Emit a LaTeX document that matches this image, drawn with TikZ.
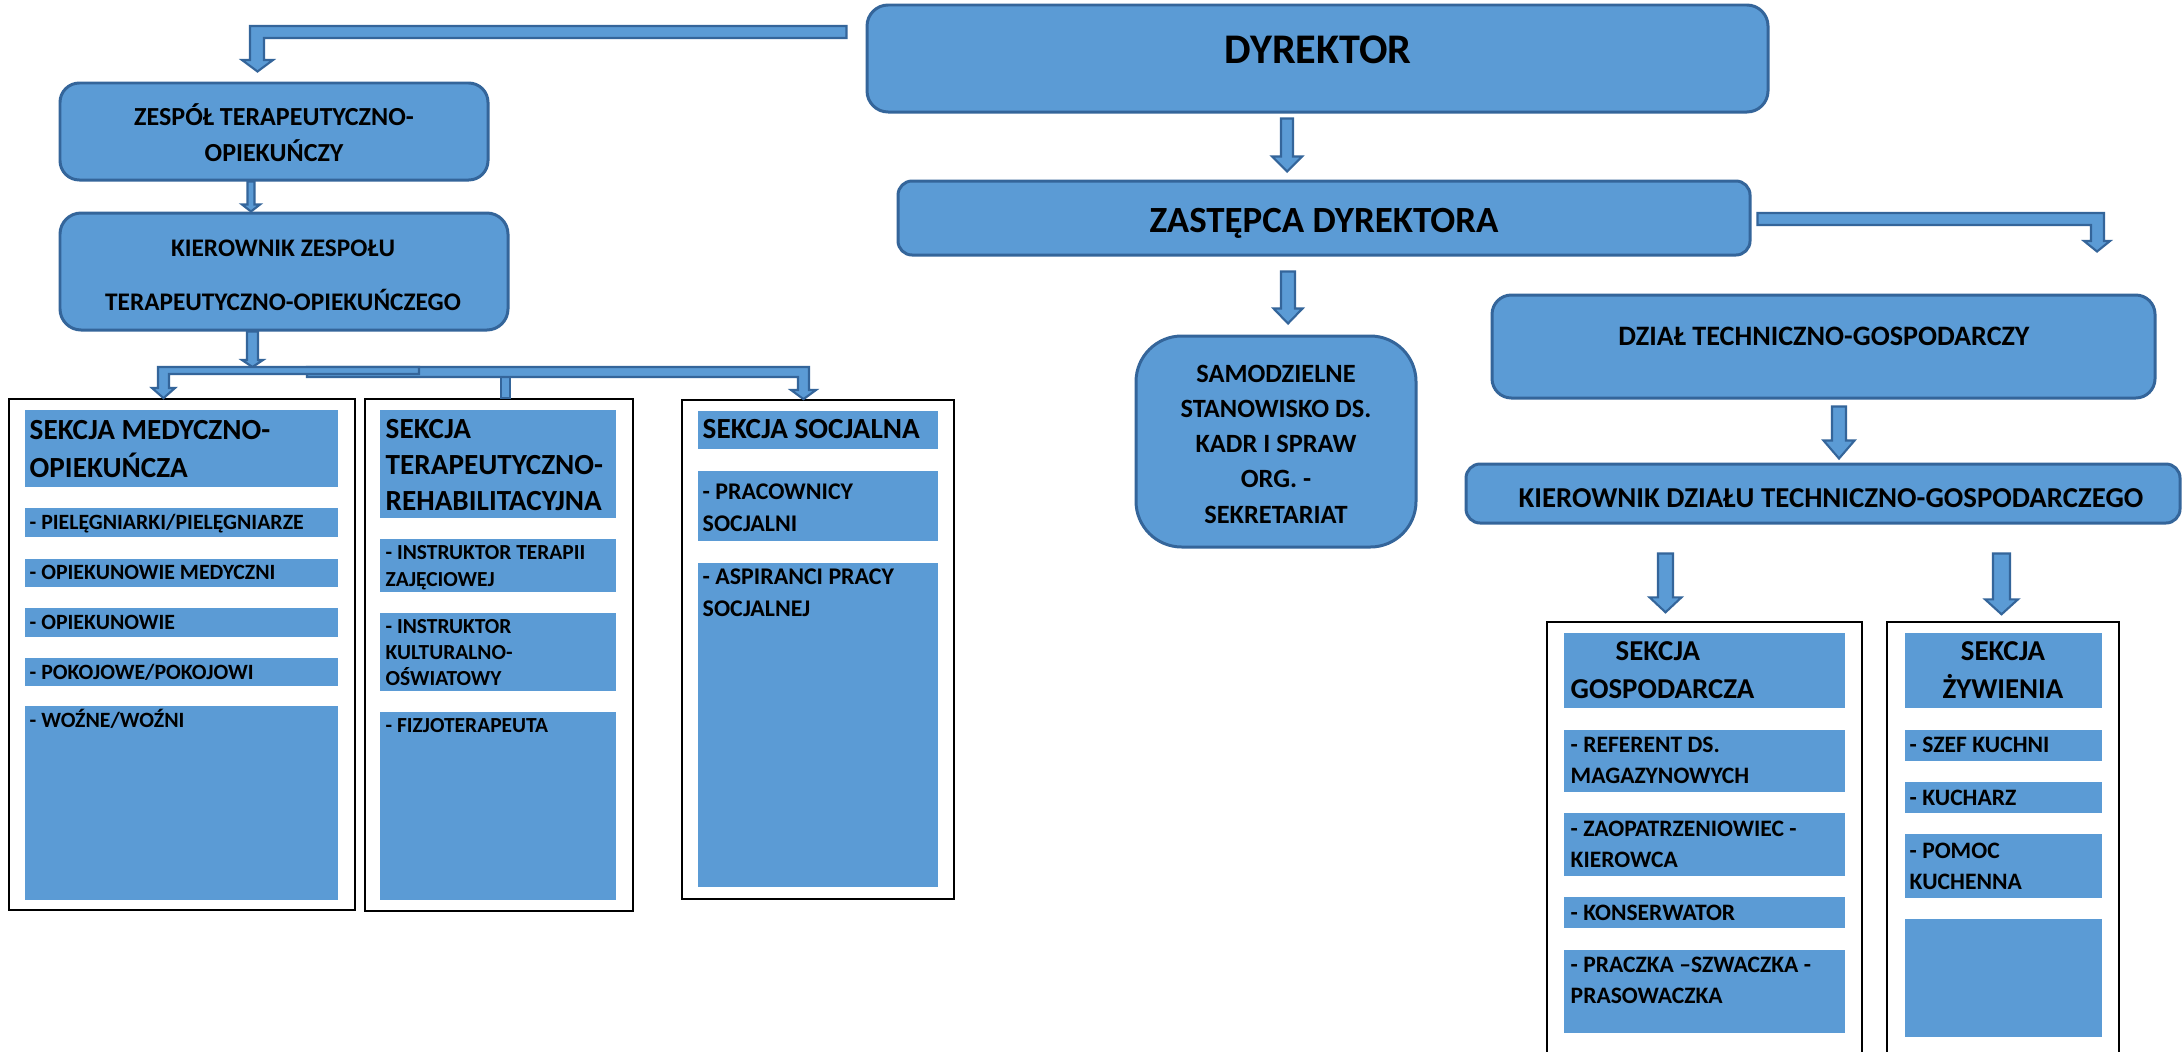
\documentclass[tikz,border=0pt]{standalone}
\usepackage{fontspec}
\setmainfont{Carlito}
\usetikzlibrary{calc,fit}
\definecolor{bfill}{HTML}{5B9BD5}
\definecolor{bline}{HTML}{34659A}
\newlength\pxu
\setlength\pxu{0.01cm}
\newcommand\fs[2]{\fontsize{#1}{#2}\selectfont\bfseries}
% vertical block arrow: from anchor, to anchor, x(px), gap top, gap bottom, stem half, head half, head length
\newcommand\vconn[8]{%
  \path[blk] let \p1=(#1), \p2=(#2) in
  ({(#3-#6)*\pxu},\y1-#4*\pxu) -- ({(#3+#6)*\pxu},\y1-#4*\pxu) --
  ({(#3+#6)*\pxu},\y2+#5*\pxu+#8*\pxu) -- ({(#3+#7)*\pxu},\y2+#5*\pxu+#8*\pxu) --
  ({#3*\pxu},\y2+#5*\pxu) --
  ({(#3-#7)*\pxu},\y2+#5*\pxu+#8*\pxu) -- ({(#3-#6)*\pxu},\y2+#5*\pxu+#8*\pxu) -- cycle;}
\tikzset{
  rbox/.style={draw=bline, fill=bfill, line width=0.85pt, rounded corners=#1, inner sep=0pt},
  rbox/.default=5pt,
  blk/.style={draw=bline, fill=bfill, line width=0.6pt, line join=miter},
  frm/.style={draw=black, line width=0.5pt, inner sep=0pt},
  ibox/.style={fill=bfill, inner sep=0pt},
  txt/.style={inner sep=0pt, anchor=base west, align=left},
  ctxt/.style={inner sep=0pt, anchor=base, align=center},
}
\begin{document}
\begin{tikzpicture}[x=0.01cm,y=-0.01cm]
\useasboundingbox (0,0) rectangle (2183,1051);
\fill[white] (0,0) rectangle (2183,1051);

% ---------- main rounded boxes ----------
\node[rbox=6pt, fit={(867,5) (1768,112)}] (dyr) {};
\node[rbox=4pt, fit={(898,181) (1750,255)}] (zast) {};
\node[rbox=5.5pt, fit={(60,83) (488,180)}] (zesp) {};
\node[rbox=6pt, fit={(60,213) (508,330)}] (kz) {};
\node[rbox=13pt, fit={(1136,336) (1416,547)}] (samo) {};
\node[rbox=5.5pt, fit={(1492,295) (2155,398)}] (dzial) {};
\node[rbox=4pt, fit={(1466,464) (2180,523)}] (kdz) {};

% (base anchor of a multi-line text = baseline of its last line)
\node[ctxt, font=\fs{12}{14}] (dyrT) at (1318,63) {DYREKTOR};
\node[ctxt, font=\fs{10.5}{12}] (zastT) at (1324,232) {ZASTĘPCA DYREKTORA};
\node[ctxt, font=\fs{7.4}{10.2}] (zespT) at (274,161) {ZESPÓŁ TERAPEUTYCZNO-\\OPIEKUŃCZY};
\node[ctxt, font=\fs{7.2}{15.1}] (kzT) at (283,310) {KIEROWNIK ZESPOŁU\\TERAPEUTYCZNO-OPIEKUŃCZEGO};
\node[ctxt, font=\fs{7.5}{10}] (samoT) at (1276,523) {SAMODZIELNE\\STANOWISKO DS.\\KADR I SPRAW\\ORG. -\\SEKRETARIAT};
\node[ctxt, font=\fs{8}{10}] (dzialT) at (1824,345) {DZIAŁ TECHNICZNO-GOSPODARCZY};
\node[ctxt, font=\fs{8.2}{10}] (kdzT) at (1831,507) {KIEROWNIK DZIAŁU TECHNICZNO-GOSPODARCZEGO};

% ---------- section frames ----------
\node[frm, fit={(9,399) (355,910)}] (f1) {};
\node[frm, fit={(365,399) (633,911)}] (f2) {};
\node[frm, fit={(682,400) (954,899)}] (f3) {};
\node[inner sep=0pt, fit={(1548,623) (1861,1051)}] (f4) {};
\node[inner sep=0pt, fit={(1888,623) (2118,1051)}] (f5) {};
\draw[frm] (f4.south west) -- (f4.north west) -- (f4.north east) -- (f4.south east);
\draw[frm] (f5.south west) -- (f5.north west) -- (f5.north east) -- (f5.south east);

% ---------- section 1: medyczno-opiekuncza ----------
\node[ibox, fit={(25,410) (338,487)}] (m0) {};
\node[ibox, fit={(25,508) (338,537)}] (m1) {};
\node[ibox, fit={(25,559) (338,587)}] (m2) {};
\node[ibox, fit={(25,608) (338,637)}] (m3) {};
\node[ibox, fit={(25,658) (338,686)}] (m4) {};
\node[ibox, fit={(25,706) (338,900)}] (m5) {};
\node[txt, font=\fs{8.3}{10.8}] (m0T) at (29,477) {SEKCJA MEDYCZNO-\\OPIEKUŃCZA};
\node[txt, font=\fs{6.2}{7.4}] (m1T) at (29,529) {- PIELĘGNIARKI/PIELĘGNIARZE};
\node[txt, font=\fs{6.2}{7.4}] (m2T) at (29,579) {- OPIEKUNOWIE MEDYCZNI};
\node[txt, font=\fs{6.2}{7.4}] (m3T) at (29,629) {- OPIEKUNOWIE};
\node[txt, font=\fs{6.2}{7.4}] (m4T) at (29,679) {- POKOJOWE/POKOJOWI};
\node[txt, font=\fs{6.2}{7.4}] (m5T) at (29,727) {- WOŹNE/WOŹNI};

% ---------- section 2: terapeutyczno-rehabilitacyjna ----------
\node[ibox, fit={(380,410) (616,518)}] (r0) {};
\node[ibox, fit={(380,539) (616,592)}] (r1) {};
\node[ibox, fit={(380,613) (616,691)}] (r2) {};
\node[ibox, fit={(380,712) (616,900)}] (r3) {};
\node[txt, font=\fs{8.3}{10.1}] (r0T) at (385,510) {SEKCJA\\TERAPEUTYCZNO-\\REHABILITACYJNA};
\node[txt, font=\fs{6.1}{7.4}] (r1T) at (385,586) {- INSTRUKTOR TERAPII\\ZAJĘCIOWEJ};
\node[txt, font=\fs{6.1}{7.3}] (r2T) at (385,685) {- INSTRUKTOR\\KULTURALNO-\\OŚWIATOWY};
\node[txt, font=\fs{6.1}{7.4}] (r3T) at (385,732) {- FIZJOTERAPEUTA};

% ---------- section 3: socjalna ----------
\node[ibox, fit={(698,411) (938,449)}] (s0) {};
\node[ibox, fit={(698,471) (938,541)}] (s1) {};
\node[ibox, fit={(698,563) (938,887)}] (s2) {};
\node[txt, font=\fs{8.3}{10}] (s0T) at (702,438) {SEKCJA SOCJALNA};
\node[txt, font=\fs{6.8}{9.1}] (s1T) at (702,531) {- PRACOWNICY\\SOCJALNI};
\node[txt, font=\fs{6.8}{8.9}] (s2T) at (702,616) {- ASPIRANCI PRACY\\SOCJALNEJ};

% ---------- section 4: gospodarcza ----------
\node[ibox, fit={(1564,633) (1845,708)}] (g0) {};
\node[ibox, fit={(1564,730) (1845,792)}] (g1) {};
\node[ibox, fit={(1564,813) (1845,876)}] (g2) {};
\node[ibox, fit={(1564,897) (1845,928)}] (g3) {};
\node[ibox, fit={(1564,950) (1845,1033)}] (g4) {};
\node[txt, font=\fs{8.2}{10.8}] (g0T) at (1570,698) {\hspace*{45\pxu}SEKCJA\\GOSPODARCZA};
\node[txt, font=\fs{6.7}{8.8}] (g1T) at (1570,783) {- REFERENT DS.\\MAGAZYNOWYCH};
\node[txt, font=\fs{6.7}{8.8}] (g2T) at (1570,867) {- ZAOPATRZENIOWIEC -\\KIEROWCA};
\node[txt, font=\fs{6.7}{8.8}] (g3T) at (1570,920) {- KONSERWATOR};
\node[txt, font=\fs{6.7}{8.8}] (g4T) at (1570,1003) {- PRACZKA –SZWACZKA -\\PRASOWACZKA};

% ---------- section 5: zywienia ----------
\node[ibox, fit={(1905,633) (2102,708)}] (z0) {};
\node[ibox, fit={(1905,730) (2102,761)}] (z1) {};
\node[ibox, fit={(1905,782) (2102,813)}] (z2) {};
\node[ibox, fit={(1905,834) (2102,898)}] (z3) {};
\node[ibox, fit={(1905,919) (2102,1037)}] (z4) {};
\node[ctxt, font=\fs{8.2}{10.8}] (z0T) at (2003,698) {SEKCJA\\ŻYWIENIA};
\node[txt, font=\fs{6.7}{8.8}] (z1T) at (1909,752) {- SZEF KUCHNI};
\node[txt, font=\fs{6.7}{8.8}] (z2T) at (1909,805) {- KUCHARZ};
\node[txt, font=\fs{6.7}{8.8}] (z3T) at (1909,889) {- POMOC\\KUCHENNA};

% ---------- connectors ----------
\coordinate (busT) at (252.5,367);
% dyrektor -> zespol (bent)
\path[blk] let \p1=(dyr.west), \p2=(zesp.north) in
  (\x1-19*\pxu,-26*\pxu) -- (250*\pxu,-26*\pxu) -- (250*\pxu,-60*\pxu) -- (242*\pxu,-60*\pxu) --
  (257.5*\pxu,\y2+10*\pxu) -- (273*\pxu,-60*\pxu) -- (264*\pxu,-60*\pxu) -- (264*\pxu,-38*\pxu) --
  (\x1-19*\pxu,-38*\pxu) -- cycle;
% zastepca -> dzial (bent)
\path[blk] let \p1=(zast.east), \p2=(dzial.north) in
  (\x1+6*\pxu,-213*\pxu) -- (2104*\pxu,-213*\pxu) -- (2104*\pxu,-241*\pxu) -- (2110*\pxu,-241*\pxu) --
  (2097*\pxu,\y2+42*\pxu) -- (2084*\pxu,-241*\pxu) -- (2091*\pxu,-241*\pxu) -- (2091*\pxu,-225*\pxu) --
  (\x1+6*\pxu,-225*\pxu) -- cycle;
% straight arrows
\vconn{dyr.south}{zast.north}{1287}{5}{8}{6}{15}{15}
\vconn{zesp.south}{kz.north}{251}{0}{0}{3.5}{9}{7}
\vconn{kz.south}{busT}{252.5}{0}{0}{5.5}{10.5}{7}
\vconn{zast.south}{samo.north}{1288}{15}{11}{7}{14.5}{15}
\vconn{dzial.south}{kdz.north}{1839}{7}{4}{7}{15.5}{18}
\vconn{kdz.south}{f4.north}{1665.5}{29}{10}{7.5}{16}{15}
\vconn{kdz.south}{f5.north}{2001.5}{29}{8}{8.5}{16.5}{15}
% distribution to the three sections
\path[blk] let \p1=(f2.north) in
  (501*\pxu,-376*\pxu) -- (510*\pxu,-376*\pxu) -- (510*\pxu,\y1) -- (501*\pxu,\y1) -- cycle;
\path[blk] let \p1=(busT), \p2=(f3.north) in
  (307*\pxu,\y1) -- (809*\pxu,\y1) -- (809*\pxu,-390*\pxu) -- (816*\pxu,-390*\pxu) --
  (803.5*\pxu,\y2) -- (791*\pxu,-390*\pxu) -- (798*\pxu,-390*\pxu) -- (798*\pxu,-377*\pxu) --
  (307*\pxu,-377*\pxu) -- cycle;
\path[blk] let \p1=(busT), \p2=(f1.north) in
  (419*\pxu,\y1) -- (158*\pxu,\y1) -- (158*\pxu,-388*\pxu) -- (152*\pxu,-388*\pxu) --
  (163.5*\pxu,\y2) -- (175*\pxu,-388*\pxu) -- (169*\pxu,-388*\pxu) -- (169*\pxu,-374*\pxu) --
  (419*\pxu,-374*\pxu) -- cycle;
\end{tikzpicture}
\end{document}
